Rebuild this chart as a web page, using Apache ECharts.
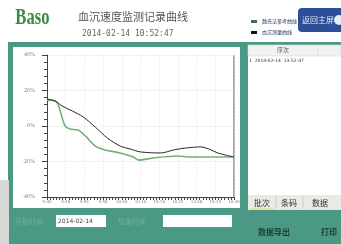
<!DOCTYPE html>
<html>
<head>
<meta charset="utf-8">
<script src="https://cdn.jsdelivr.net/npm/echarts@6/dist/echarts.min.js"></script>
<style>
html,body{margin:0;padding:0;background:#fff}
#chart{width:341px;height:244px}
</style>
</head>
<body>
<div id="chart"></div>
<script>
// x = minutes from start, y = percent
const measured = [[0,15.2],[2.6,14.1],[4.8,11.3],[8.1,8.5],[11.6,5.1],[15.5,-0.6],[19.4,-6.8],[23.5,-11.3],[26.8,-13],[30,-14.6],[36.5,-15.2],[40.6,-13.5],[44.5,-12.4],[49.4,-11.8],[52,-13],[54.8,-15.2],[60,-17.5]]
const reference = [[0,14.6],[2.6,14.1],[3.5,12.4],[4.8,5.1],[5.8,0],[7.4,-1.7],[10,-2.3],[12.3,-5.6],[15.5,-11.3],[18.7,-13.5],[23.5,-15.2],[27.7,-17.5],[29.4,-19.2],[34.2,-18],[41.9,-16.9],[46.1,-17.5],[60,-17.5]]
const xLabels = ['9:40','9:46','9:52','9:58','10:04','10:10','10:16','10:22','10:28','10:34','10:40']
const yLabels = {'40':'40%','20':'20%','0':'-0%','-20':'-20%','-40':'-40%'}
const seriesNames = ['魏氏法参考曲线','血沉测量曲线']

const teal = '#4b9885'
const cjk = '"Noto Sans CJK SC", sans-serif'
const chart = echarts.init(document.getElementById('chart'))

const g = []
// frames
g.push({type:'rect', shape:{x:8,y:42,width:333,height:202}, style:{fill:teal}, z:-10})
g.push({type:'rect', shape:{x:0,y:180,width:9,height:64}, style:{fill:'#d6d8d8'}, z:-10})
g.push({type:'rect', shape:{x:13,y:47,width:227,height:161}, style:{fill:'#fff'}, z:-9})
g.push({type:'rect', shape:{x:248,y:45,width:93,height:150}, style:{fill:'#fff'}, z:-9})
g.push({type:'rect', shape:{x:248,y:45,width:93,height:11}, style:{fill:'#f1f1ef',stroke:'#d8d8d8',lineWidth:0.6}, z:-8})
g.push({type:'line', shape:{x1:318,y1:45,x2:318,y2:56}, style:{stroke:'#d8d8d8',lineWidth:0.6}})
g.push({type:'text', x:283, y:50, style:{text:'序次', fill:'#555', font:'6px '+cjk, align:'center', verticalAlign:'middle'}})
g.push({type:'text', x:249, y:61, style:{text:'1  2014-02-14  13:52:47', fill:'#333', font:'4.5px "DejaVu Sans"', verticalAlign:'middle'}})
// tabs
g.push({type:'rect', shape:{x:248,y:195,width:93,height:15}, style:{fill:'#e9eae6'}, z:-8})
const tabs = [['批次',262],['条码',289],['数据',320]]
tabs.forEach(t=>{
  g.push({type:'text', x:t[1], y:203, style:{text:t[0], fill:'#333', font:'8px '+cjk, align:'center', verticalAlign:'middle'}})
})
g.push({type:'line', shape:{x1:276,y1:196,x2:276,y2:209}, style:{stroke:'#bbb',lineWidth:0.6}})
g.push({type:'line', shape:{x1:303,y1:196,x2:303,y2:209}, style:{stroke:'#bbb',lineWidth:0.6}})
g.push({type:'line', shape:{x1:250,y1:209,x2:274,y2:209}, style:{stroke:'#e8d870',lineWidth:1}})
// bottom inputs
g.push({type:'text', x:15, y:221, style:{text:'开始时间', fill:'#6fb3a1', font:'7px '+cjk, verticalAlign:'middle'}})
g.push({type:'rect', shape:{x:56,y:215,width:50,height:12}, style:{fill:'#fff'}})
g.push({type:'text', x:58, y:221, style:{text:'2014-02-14', fill:'#444', font:'6px "DejaVu Sans"', verticalAlign:'middle'}})
g.push({type:'text', x:118, y:221, style:{text:'结束时间', fill:'#6fb3a1', font:'7px '+cjk, verticalAlign:'middle'}})
g.push({type:'rect', shape:{x:163,y:215,width:69,height:12}, style:{fill:'#fff'}})
g.push({type:'text', x:274, y:232, style:{text:'数据导出', fill:'#1f3f36', font:'bold 8px '+cjk, align:'center', verticalAlign:'middle'}})
g.push({type:'text', x:329, y:232, style:{text:'打印', fill:'#1f3f36', font:'bold 8px '+cjk, align:'center', verticalAlign:'middle'}})
// header
g.push({type:'text', x:12, y:18, scaleX:0.72, originX:12, originY:18, style:{text:'Baso', fill:'#3b8a40', font:'bold 23px "Liberation Serif"', verticalAlign:'middle'}})
g.push({type:'text', x:78, y:17, style:{text:'血沉速度监测记录曲线', fill:'#555', font:'11px '+cjk, verticalAlign:'middle'}})
g.push({type:'text', x:82, y:34, style:{text:'2014-02-14 10:52:47', fill:'#666', font:'8px "DejaVu Sans Mono"', verticalAlign:'middle'}})
g.push({type:'rect', shape:{x:298,y:8,width:50,height:24,r:4}, style:{fill:'#2c4f98'}})
g.push({type:'text', x:302, y:20, style:{text:'返回主屏', fill:'#dfe8f6', font:'8px '+cjk, verticalAlign:'middle'}})
g.push({type:'circle', shape:{cx:339,cy:20,r:5}, style:{fill:'#e8eef8'}})
// right edge line of plot
g.push({type:'line', shape:{x1:234,y1:55,x2:234,y2:197}, style:{stroke:'#666',lineWidth:1.2}})

chart.setOption({
  animation:false,
  textStyle:{fontFamily:'"DejaVu Sans"'},
  legend:{
    orient:'vertical', left:246, top:14, itemGap:6, itemWidth:6, itemHeight:3,
    textStyle:{fontSize:5, color:'#2a3a6a', fontFamily:cjk},
    data:[{name:seriesNames[0], icon:'rect', itemStyle:{color:'#3f6f45'}},{name:seriesNames[1], icon:'rect', itemStyle:{color:'#111'}}]
  },
  grid:{left:47, right:107, top:55, bottom:47},
  xAxis:{
    type:'value', min:0, max:60, interval:6,
    axisLine:{show:true, onZero:false, lineStyle:{color:'#444'}},
    axisTick:{show:true, length:3, lineStyle:{color:'#444'}},
    minorTick:{show:true, splitNumber:6, length:3, lineStyle:{color:'#444'}},
    axisLabel:{fontSize:4, color:'#888', margin:3, formatter:(v)=>xLabels[Math.round(v/6)]||''},
    splitLine:{show:true, lineStyle:{color:'#e2e2e2', type:'dashed', width:0.6}}
  },
  yAxis:{
    type:'value', min:-40, max:40, interval:20,
    axisLine:{show:true, lineStyle:{color:'#444'}},
    axisTick:{show:true, length:5, lineStyle:{color:'#444'}},
    minorTick:{show:true, splitNumber:5, length:3, lineStyle:{color:'#444'}},
    axisLabel:{fontSize:5, color:'#888', margin:12, formatter:(v)=>yLabels[String(v)]},
    splitLine:{show:true, lineStyle:{color:'#e6e6e6', width:0.6}}
  },
  series:[
    {name:seriesNames[0], type:'line', data:reference, smooth:0.3, showSymbol:false, lineStyle:{color:'#72b374', width:1.6}, itemStyle:{color:'#72b374'}},
    {name:seriesNames[1], type:'line', data:measured, smooth:0.3, showSymbol:false, lineStyle:{color:'#2a2a2a', width:1}, itemStyle:{color:'#2a2a2a'}}
  ],
  graphic:g
})
</script>
</body>
</html>
